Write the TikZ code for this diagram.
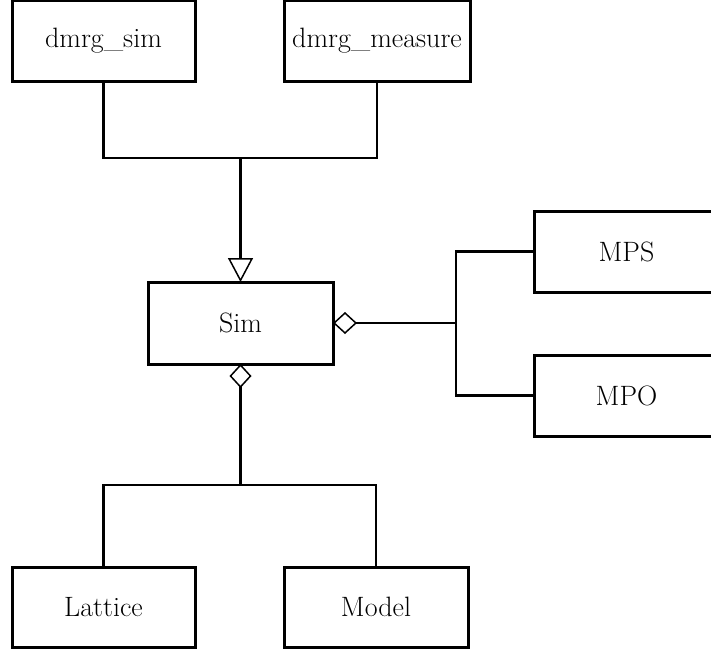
\documentclass[tikz,border=0pt]{standalone}
\usetikzlibrary{arrows.meta}
\begin{document}
\begin{tikzpicture}[x=1pt,y=-1pt,
  box/.style={draw,line width=3pt,minimum height=81pt,inner sep=0pt,outer sep=0pt,
    font=\fontsize{28}{32}\selectfont},
  conn/.style={line width=2.8pt},
  gen/.style={-{Triangle[open,length=24pt,width=25pt,line width=1.5pt]}},
  agg/.style={{Diamond[open,length=24pt,width=22pt,line width=1.5pt]}-}]
\useasboundingbox (0,0) rectangle (711,651);
\fill[white] (0,0) rectangle (711,651);
\clip (0,0) rectangle (711,651);
\node[box,minimum width=183pt] (dsim) at (103.5,40.5) {dmrg\_sim};
\node[box,minimum width=186pt] (dmeas) at (377,40.5) {dmrg\_measure};
\node[box,minimum width=185pt,minimum height=82pt] (sim) at (240.5,323) {Sim};
\node[box,minimum width=185pt] (mps) at (626.5,251.5) {MPS};
\node[box,minimum width=185pt] (mpo) at (626.5,395.5) {MPO};
\node[box,minimum width=183pt,minimum height=80pt] (lat) at (103.5,607) {Lattice};
\node[box,minimum width=184pt,minimum height=80pt] (model) at (376,607) {Model};
\coordinate (j1) at (240.5,158);
\coordinate (j2) at (456,323);
\coordinate (j3) at (240.5,485);
\draw[conn] (dsim.south) |- (j1) -| (dmeas.south);
\draw[conn,gen] (j1) -- (sim.north);
\draw[conn,agg] (sim.east) -- (j2);
\draw[conn] (mps.west) -| (j2) |- (mpo.west);
\draw[conn,agg] (sim.south) -- (j3);
\draw[conn] (lat.north) |- (j3) -| (model.north);
\end{tikzpicture}
\end{document}
